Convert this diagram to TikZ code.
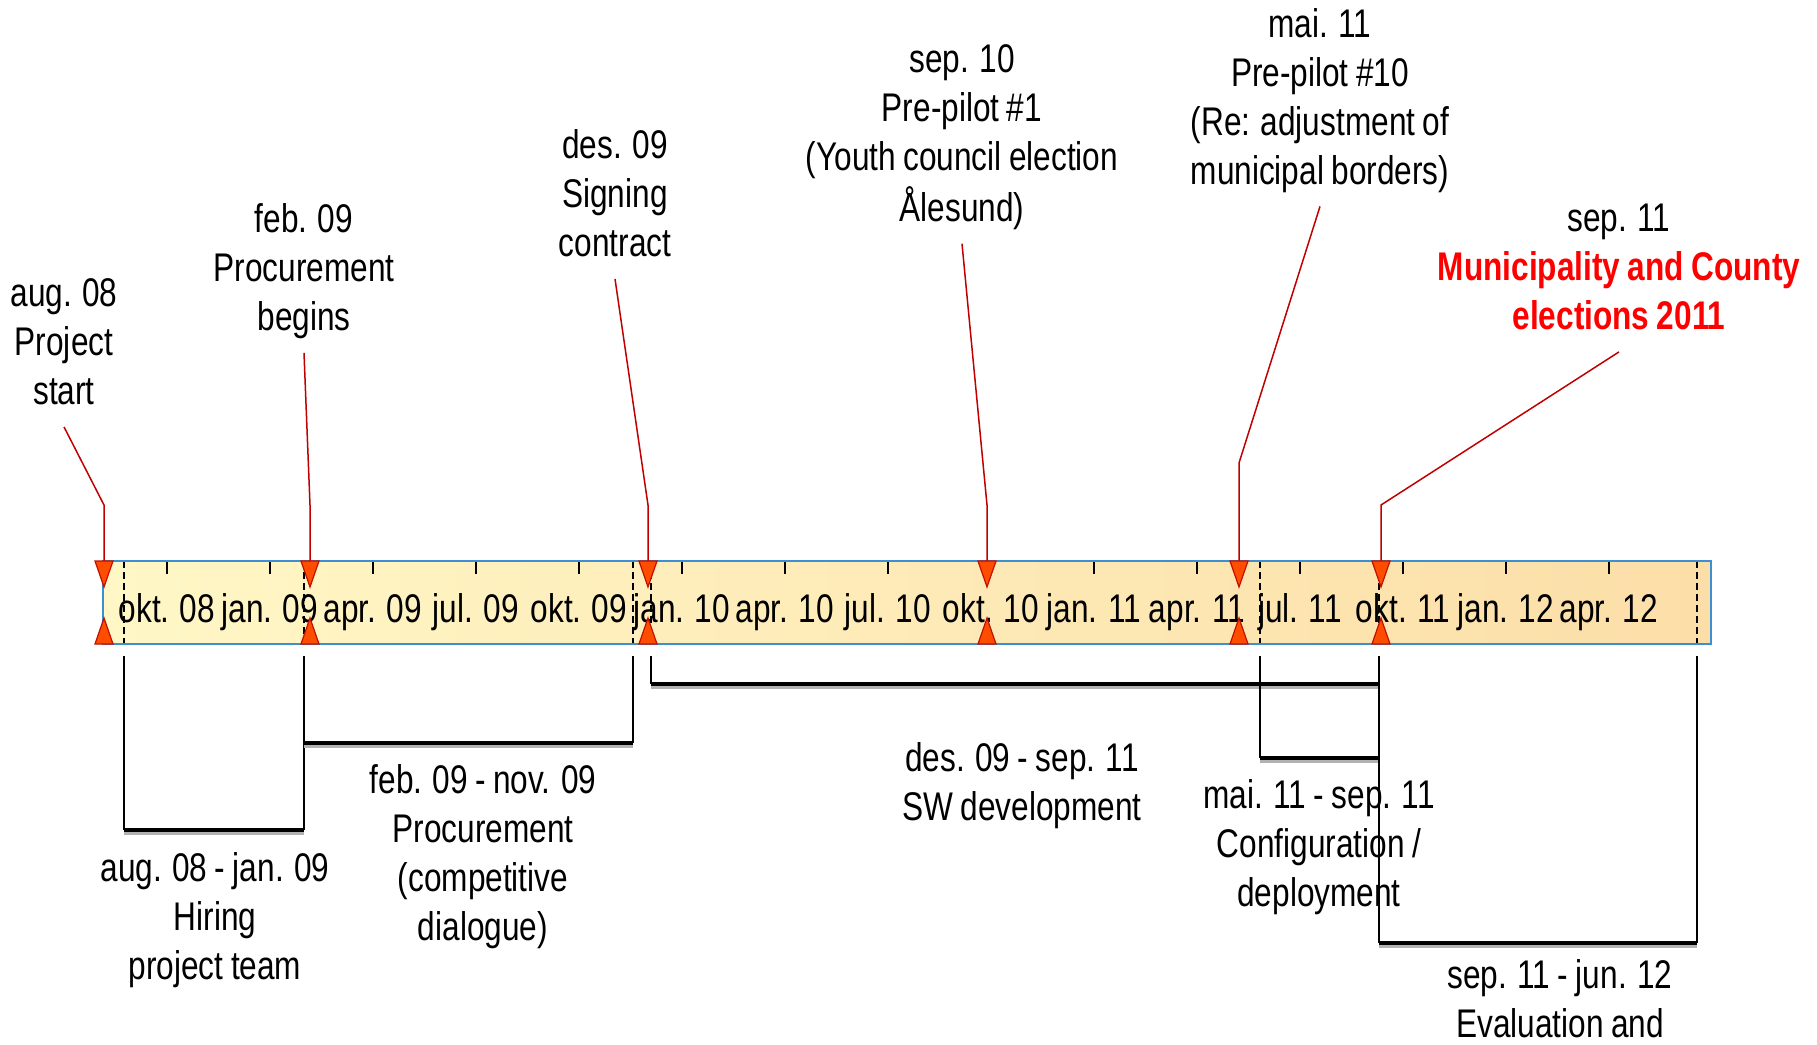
\documentclass[tikz,border=0pt]{standalone}
\usepackage{fontspec}
\setmainfont{Liberation Sans}[FakeStretch=0.79, WordSpace=0.85]
\definecolor{barL}{HTML}{FFF7C6}
\definecolor{barR}{HTML}{FCDEA8}
\definecolor{barEdge}{HTML}{3D8FD1}
\definecolor{triFill}{HTML}{FF4D00}
\definecolor{triEdge}{HTML}{C01000}
\definecolor{leadRed}{HTML}{C00000}
\definecolor{elecRed}{HTML}{FF0000}
\newcommand\lblfont{\fontsize{20pt}{24.5pt}\selectfont}
\begin{document}
\begin{tikzpicture}[x=0.5pt,y=-0.5pt,
  lbl/.style={font=\lblfont, align=center, inner sep=0pt},
  leader/.style={draw=leadRed, line width=0.75pt},
  tri/.style={fill=triFill, draw=triEdge, line width=0.6pt, line join=miter},
  tickmark/.style={line width=0.75pt},
  dashv/.style={dash pattern=on 3.5pt off 2pt, line width=0.6pt},
  brv/.style={line width=1.1pt},
  brh/.style={line width=2pt},
  brshadow/.style={line width=1.2pt, draw=black!30}]
\useasboundingbox (0,0) rectangle (1817,1045);
\clip (0,0) rectangle (1817,1045);

% ---- time bar ----
\coordinate (barNW) at (103,561);
\coordinate (barSE) at (1711,644);
\shade[left color=barL, right color=barR] (barNW) rectangle (barSE);

% dashed markers of the phases
\foreach \x in {124,304,633,651,1260,1379,1697}
  \draw[dashv] (\x,561) -- (\x,644);

% quarter ticks and labels
\foreach \i/\t in {0/okt. 08,1/jan. 09,2/apr. 09,3/jul. 09,4/okt. 09,5/jan. 10,6/apr. 10,7/jul. 10,8/okt. 10,9/jan. 11,10/apr. 11,11/jul. 11,12/okt. 11,13/jan. 12,14/apr. 12}{
  \draw[tickmark] ({166.9+103*\i},561) -- ++(0,13);
  \node[lbl, anchor=base] (q\i) at ({166.9+103*\i},622) {\t};
}
\draw[draw=barEdge, line width=0.9pt] (barNW) rectangle (barSE);

% ---- milestone labels ----
\node[lbl] (lab1) at (64,346)   {aug. 08\strut\\Project\strut\\start\strut};
\node[lbl] (lab2) at (304,272)  {feb. 09\strut\\Procurement\strut\\begins\strut};
\node[lbl] (lab3) at (615,198)  {des. 09\strut\\Signing\strut\\contract\strut};
\node[lbl] (lab4) at (962,137)  {sep. 10\strut\\Pre-pilot \#1\strut\\(Youth council election\strut\\Ålesund)\strut};
\node[lbl] (lab5) at (1320,101) {mai. 11\strut\\Pre-pilot \#10\strut\\(Re: adjustment of\strut\\municipal borders)\strut};
\node[lbl] (lab6) at (1619,271) {sep. 11\strut\\\textcolor{elecRed}{\bfseries Municipality and County}\strut\\\textcolor{elecRed}{\bfseries elections 2011}\strut};

% milestone points on the bar
\foreach \n/\x in {1/104,2/310,3/648,4/987,5/1239,6/1381}{
  \coordinate (m\n) at (\x,561);
  \coordinate (n\n) at (\x,644);
}
\coordinate (k1) at (104,505);
\coordinate (k2) at (310,505);
\coordinate (k3) at (648,505);
\coordinate (k4) at (987,505);
\coordinate (k5) at (1239,463);
\coordinate (k6) at (1381,505);

\foreach \n in {1,...,6}
  \draw[leader] (lab\n.south) ++(0,7) -- (k\n) -- (m\n);

\foreach \n in {1,...,6}{
  \filldraw[tri] (m\n) ++(-9,0) -- ++(18,0) -- ++(-9,26) -- cycle;
  \filldraw[tri] (n\n) ++(-9,0) -- ++(18,0) -- ++(-9,-26) -- cycle;
}

% ---- phase brackets ----
\foreach \a/\b/\y in {124/304/830, 304/633/743, 651/1379/684, 1260/1379/758, 1379/1697/943}{
  \coordinate (pa) at (\a,656);
  \coordinate (pb) at (\b,656);
  \coordinate (qa) at (\a,\y);
  \coordinate (qb) at (\b,\y);
  \draw[brv] (pa) -- (qa);
  \draw[brv] (pb) -- (qb);
  \draw[brshadow] ([yshift=-1.8pt]qa) -- ([yshift=-1.8pt]qb);
  \draw[brh] (qa) -- (qb);
}

% ---- phase labels ----
\node[lbl] (ph1) at (215,921)  {aug. 08 - jan. 09\strut\\Hiring\strut\\project team\strut};
\node[lbl] (ph2) at (483,857)  {feb. 09 - nov. 09\strut\\Procurement\strut\\(competitive\strut\\dialogue)\strut};
\node[lbl] (ph3) at (1022,786) {des. 09 - sep. 11\strut\\SW development\strut};
\node[lbl] (ph4) at (1319,848) {mai. 11 - sep. 11\strut\\Configuration /\strut\\deployment\strut};
\node[lbl] (ph5) at (1560,1003) {sep. 11 - jun. 12\strut\\Evaluation and\strut};
\end{tikzpicture}
\end{document}
